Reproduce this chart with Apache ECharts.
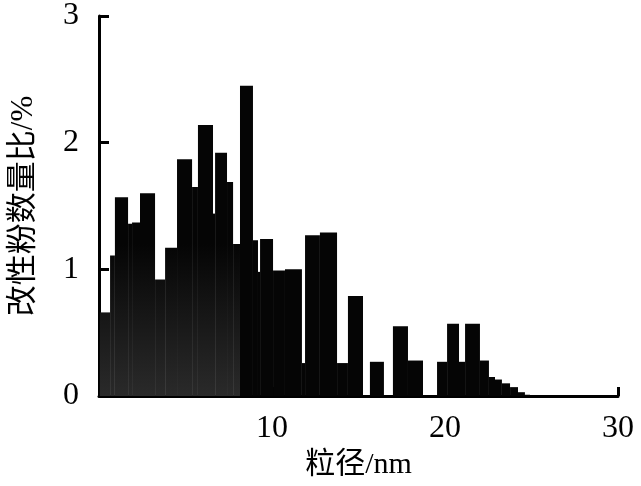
<!DOCTYPE html>
<html>
<head>
<meta charset="utf-8">
<script src="https://cdn.jsdelivr.net/npm/echarts@6/dist/echarts.min.js"></script>
<style>html,body{margin:0;padding:0;background:#fff;}#c{width:641px;height:486px;}</style>
</head>
<body>
<div id="c"></div>
<script>
// bin edges (nm) and number percentage (%)
var binStart = [0.05,0.64,0.92,1.68,1.91,2.37,3.24,3.82,4.51,5.38,5.72,6.59,6.71,7.40,7.75,8.15,8.90,9.19,9.31,10.06,10.75,11.73,11.91,12.77,13.76,14.39,15.66,16.99,17.86,19.54,20.12,20.81,21.16,22.02,22.54,22.89,23.29,23.76,24.22,24.62];
var binEnd   = [0.64,0.92,1.68,1.91,2.37,3.24,3.82,4.51,5.38,5.72,6.59,6.71,7.40,7.75,8.15,8.90,9.19,9.31,10.06,10.75,11.73,11.91,12.77,13.76,14.39,15.26,16.47,17.86,18.73,20.12,20.81,21.16,22.02,22.54,22.89,23.29,23.76,24.22,24.62,24.91];
var percent  = [0.66,1.11,1.57,1.36,1.37,1.60,0.92,1.17,1.87,1.65,2.14,1.44,1.92,1.69,1.20,2.45,1.23,0.98,1.24,0.99,1.00,0.26,1.27,1.29,0.26,0.79,0.27,0.55,0.28,0.27,0.57,0.27,0.57,0.28,0.15,0.13,0.10,0.07,0.03,0.01];
var xTicks = [0,10,20,30];
var yTicks = [0,1,2,3];

var data = binStart.map(function(s,i){ return [s, binEnd[i], percent[i]]; });
var serif = '"Liberation Serif","Times New Roman",serif';
var cjk = '"Liberation Serif","Noto Sans CJK SC",serif';

var chart = echarts.init(document.getElementById('c'), null, {renderer:'canvas'});
chart.setOption({
  animation:false,
  backgroundColor:'#fff',
  grid:{left:99, right:23, top:15, bottom:90, containLabel:false},
  xAxis:{
    type:'value', min:xTicks[0], max:xTicks[xTicks.length-1], interval:10,
    name:'粒径/nm', nameLocation:'middle', nameGap:40,
    nameTextStyle:{fontFamily:cjk, fontSize:30, color:'#000'},
    axisLine:{show:true, lineStyle:{color:'#000', width:3}},
    axisTick:{show:true, inside:true, length:9, lineStyle:{color:'#000', width:3}},
    axisLabel:{fontFamily:serif, fontSize:32, color:'#000', margin:17, showMinLabel:false},
    splitLine:{show:false}
  },
  yAxis:{
    type:'value', min:yTicks[0], max:yTicks[yTicks.length-1], interval:1,
    name:'改性粉数量比/%', nameLocation:'middle', nameGap:60, nameRotate:90,
    nameTextStyle:{fontFamily:cjk, fontSize:31, color:'#000'},
    axisLine:{show:true, lineStyle:{color:'#000', width:3}},
    axisTick:{show:true, inside:true, length:10, lineStyle:{color:'#000', width:3}},
    axisLabel:{fontFamily:serif, fontSize:32, color:'#000', margin:20},
    splitLine:{show:false}
  },
  series:[{
    type:'custom',
    data:data,
    encode:{x:[0,1], y:2},
    renderItem:function(params, api){
      var x0 = api.value(0), x1 = api.value(1), h = api.value(2);
      var p0 = api.coord([x0, h]);
      var p1 = api.coord([x1, 0]);
      var base = api.coord([0, 0]);
      var mid = api.coord([0, 1.2]);
      var fill = x0 < 8 ? new echarts.graphic.LinearGradient(0, base[1], 0, mid[1], [
        {offset:0, color:'#2a2a2a'},{offset:1, color:'#050505'}], true) : '#050505';
      return {
        type:'rect',
        shape:{x:p0[0], y:p0[1], width:p1[0]-p0[0], height:p1[1]-p0[1]},
        style:{fill:fill}
      };
    }
  }]
});
</script>
</body>
</html>
